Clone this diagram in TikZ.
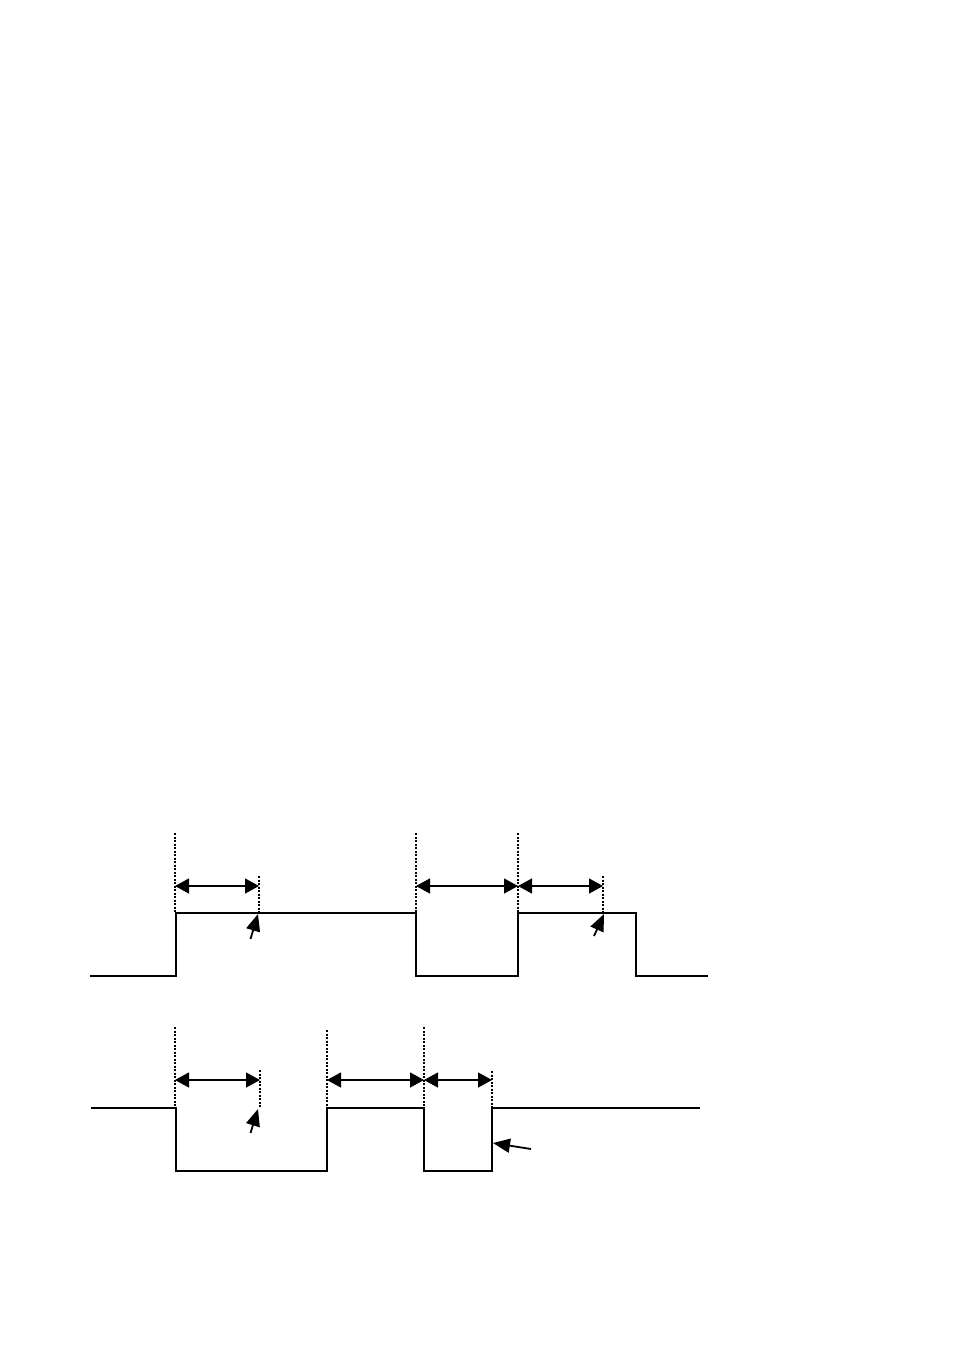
\documentclass[tikz,border=0pt]{standalone}
\usetikzlibrary{arrows.meta}
\begin{document}
\begin{tikzpicture}[x=1pt,y=-1pt,
  wave/.style={line width=1.5pt,line join=miter},
  guide/.style={line width=1.1pt,dash pattern=on 2pt off 1.5pt},
  span/.style={line width=1.3pt,{Triangle[length=14pt,width=15pt]}-{Triangle[length=14pt,width=15pt]}},
  pointer/.style={line width=1.8pt,-{Triangle[length=17pt,width=14pt]}}]
\useasboundingbox (0,0) rectangle (953,1352);
% ---------- top waveform ----------
\coordinate (t0) at (90,976);
\coordinate (t1) at (176,976);
\coordinate (t2) at (176,913);
\coordinate (t3) at (416,913);
\coordinate (t4) at (416,976);
\coordinate (t5) at (518,976);
\coordinate (t6) at (518,913);
\coordinate (t7) at (636,913);
\coordinate (t8) at (636,976);
\coordinate (t9) at (708,976);
\draw[wave] (t0) -- (t1) -- (t2) -- (t3) -- (t4) -- (t5) -- (t6) -- (t7) -- (t8) -- (t9);
% guides
\coordinate (ga1) at (175,833); \coordinate (gb1) at (175,913);
\coordinate (ga2) at (259,876); \coordinate (gb2) at (259,913);
\coordinate (ga3) at (416,833); \coordinate (gb3) at (416,913);
\coordinate (ga4) at (518,833); \coordinate (gb4) at (518,913);
\coordinate (ga5) at (603,876); \coordinate (gb5) at (603,913);
\foreach \i in {1,...,5} \draw[guide] (ga\i) -- (gb\i);
% spans
\coordinate (s1a) at (175,886); \coordinate (s1b) at (259,886);
\coordinate (s2a) at (416,886); \coordinate (s2b) at (518,886);
\coordinate (s3a) at (518,886); \coordinate (s3b) at (603,886);
\draw[span] (s1a) -- (s1b);
\draw[span] (s2a) -- (s2b);
\draw[span] (s3a) -- (s3b);
% pointers
\coordinate (p1t) at (250.5,939); \coordinate (p1h) at (258,914);
\coordinate (p2t) at (594,936); \coordinate (p2h) at (604,914);
\draw[pointer] (p1t) -- (p1h);
\draw[pointer] (p2t) -- (p2h);
% ---------- bottom waveform ----------
\coordinate (b0) at (91,1108);
\coordinate (b1) at (176,1108);
\coordinate (b2) at (176,1171);
\coordinate (b3) at (327,1171);
\coordinate (b4) at (327,1108);
\coordinate (b5) at (424,1108);
\coordinate (b6) at (424,1171);
\coordinate (b7) at (492,1171);
\coordinate (b8) at (492,1108);
\coordinate (b9) at (700,1108);
\draw[wave] (b0) -- (b1) -- (b2) -- (b3) -- (b4) -- (b5) -- (b6) -- (b7) -- (b8) -- (b9);
% guides
\coordinate (gc1) at (175,1027); \coordinate (gd1) at (175,1108);
\coordinate (gc2) at (260,1070); \coordinate (gd2) at (260,1108);
\coordinate (gc3) at (327,1030); \coordinate (gd3) at (327,1108);
\coordinate (gc4) at (424,1027); \coordinate (gd4) at (424,1108);
\coordinate (gc5) at (492,1071); \coordinate (gd5) at (492,1108);
\foreach \i in {1,...,5} \draw[guide] (gc\i) -- (gd\i);
% spans
\coordinate (s4a) at (175,1080); \coordinate (s4b) at (260,1080);
\coordinate (s5a) at (327,1080); \coordinate (s5b) at (424,1080);
\coordinate (s6a) at (424,1080); \coordinate (s6b) at (492,1080);
\draw[span] (s4a) -- (s4b);
\draw[span] (s5a) -- (s5b);
\draw[span] (s6a) -- (s6b);
% pointers
\coordinate (p3t) at (250.5,1133); \coordinate (p3h) at (258,1109);
\coordinate (p4t) at (531,1149); \coordinate (p4h) at (493,1143);
\draw[pointer] (p3t) -- (p3h);
\draw[pointer] (p4t) -- (p4h);
\end{tikzpicture}
\end{document}
